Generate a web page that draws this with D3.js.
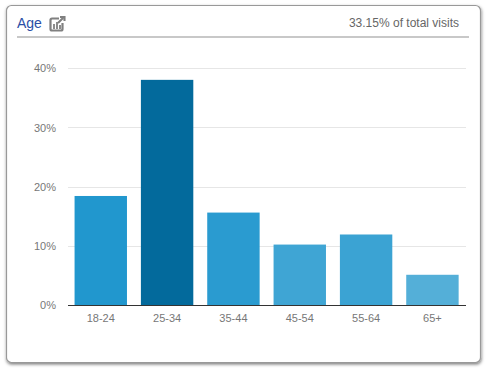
<!DOCTYPE html>
<html><head><meta charset="utf-8">
<script src="https://cdn.jsdelivr.net/npm/d3@7/dist/d3.min.js"></script>
<style>html,body{margin:0;padding:0;background:#fff}svg{display:block}text{font-family:"Liberation Sans",Arial,sans-serif}</style>
</head><body><svg id="c" width="489" height="371"></svg>
<script>
const categories=["18-24","25-34","35-44","45-54","55-64","65+"];
const values=[18.4,38.0,15.6,10.2,11.9,5.1];
const barColors=["#2197ce","#036a9c","#2a9bd0","#3fa5d4","#3ba3d3","#54afd8"];
const yTicks=[0,10,20,30,40];
const title="Age";
const note="33.15% of total visits";

const svg=d3.select("#c");
const defs=svg.append("defs");
const f=defs.append("filter").attr("id","sh").attr("x","-5%").attr("y","-5%").attr("width","110%").attr("height","110%");
f.append("feDropShadow").attr("dx",0.5).attr("dy",1.5).attr("stdDeviation",1.6).attr("flood-color","#000").attr("flood-opacity",0.5);

svg.append("rect").attr("x",6.5).attr("y",5.5).attr("width",474).attr("height",357).attr("rx",5)
  .attr("fill","#fff").attr("stroke","#999").attr("stroke-width",1.2).attr("filter","url(#sh)");

const x=d3.scaleBand().domain(categories).range([67.6,465.6]).paddingInner(0.21).paddingOuter(0.105);
const y=d3.scaleLinear().domain([0,40]).range([305,68]);

svg.append("g").selectAll("line").data(yTicks.filter(d=>d>0)).join("line")
  .attr("x1",68).attr("x2",466).attr("y1",d=>Math.round(y(d))+.5).attr("y2",d=>Math.round(y(d))+.5)
  .attr("stroke","#e6e6e6");

svg.append("g").selectAll("rect").data(categories).join("rect")
  .attr("x",d=>x(d)).attr("width",x.bandwidth())
  .attr("y",(d,i)=>y(values[i])).attr("height",(d,i)=>y(0)-y(values[i]))
  .attr("fill",(d,i)=>barColors[i]);

svg.append("line").attr("x1",68).attr("x2",466).attr("y1",305.5).attr("y2",305.5).attr("stroke","#333");

const yAxis=d3.axisLeft(y).tickValues(yTicks).tickFormat(d=>d+"%").tickSize(0).tickPadding(12);
const gy=svg.append("g").attr("transform","translate(68,0.3)").call(yAxis);
gy.select(".domain").remove();
gy.selectAll("text").attr("font-size",11).attr("fill","#777").style("font-family",'"Liberation Sans",Arial,sans-serif');

const xAxis=d3.axisBottom(x).tickSize(0).tickPadding(9);
const gx=svg.append("g").attr("transform","translate(0,305)").call(xAxis);
gx.select(".domain").remove();
gx.selectAll("text").attr("font-size",11).attr("fill","#777").style("font-family",'"Liberation Sans",Arial,sans-serif');

svg.append("text").attr("x",17).attr("y",28).attr("font-size",14).attr("fill","#2a4ea6").text(title);
svg.append("text").attr("x",459).attr("y",27).attr("text-anchor","end").attr("font-size",12).attr("fill","#666").text(note);
svg.append("line").attr("x1",17).attr("x2",469).attr("y1",37).attr("y2",37).attr("stroke","#c8c8c8").attr("stroke-width",2);

const ic=svg.append("g").attr("fill","none").attr("stroke","#808080");
ic.append("path").attr("d","M59 18.5H52a1.5 1.5 0 0 0-1.5 1.5V29a1.5 1.5 0 0 0 1.5 1.5H61a1.5 1.5 0 0 0 1.5-1.5V23").attr("stroke-width",2.2);
ic.append("path").attr("d","M54 29V24M57 29V22M60 29V25").attr("stroke-width",1.8);
ic.append("path").attr("d","M58 23L63 18M60 17H64.5V21").attr("stroke-width",2.1);
</script></body></html>
